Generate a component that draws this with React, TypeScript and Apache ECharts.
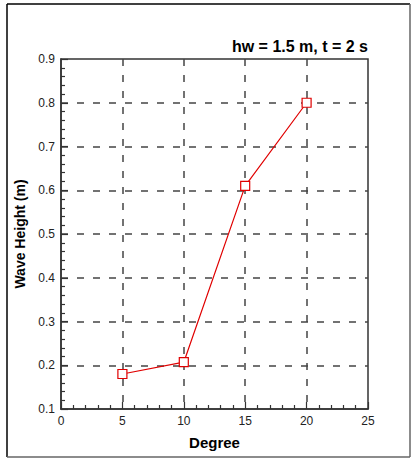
import React, { useEffect, useRef } from "react";
import * as echarts from "echarts";

const degrees = [5, 10, 15, 20];
const waveHeights = [0.18, 0.207, 0.61, 0.8];
const titleText = "hw = 1.5 m, t = 2 s";
const xName = "Degree";
const yName = "Wave Height (m)";

export default function App() {
  const ref = useRef<HTMLDivElement>(null);
  useEffect(() => {
    if (!ref.current) return;
    const chart = echarts.init(ref.current, null, { renderer: "svg" });
    const font = "Arial, 'Liberation Sans', sans-serif";
    chart.setOption({
      animation: false,
      backgroundColor: "#ffffff",
      title: {
        text: titleText,
        right: 41,
        top: 33,
        textStyle: { fontFamily: font, fontWeight: "bold", fontSize: 16, color: "#000" },
      },
      graphic: [
        { type: "line", shape: { x1: 7, y1: 4, x2: 410, y2: 4 }, style: { stroke: "#000", lineWidth: 1.5 } },
        { type: "line", shape: { x1: 7, y1: 4, x2: 7, y2: 457 }, style: { stroke: "#000", lineWidth: 1.5 } },
        { type: "line", shape: { x1: 410, y1: 4, x2: 410, y2: 457 }, style: { stroke: "#666", lineWidth: 1.5 } },
        { type: "line", shape: { x1: 7, y1: 457, x2: 410, y2: 457 }, style: { stroke: "#666", lineWidth: 1.5 } },
      ],
      grid: {
        left: 61,
        right: 46,
        top: 59,
        bottom: 50,
        show: true,
        borderColor: "#333",
        borderWidth: 1.5,
        containLabel: false,
      },
      xAxis: {
        type: "value",
        min: 0,
        max: 25,
        interval: 5,
        name: xName,
        nameLocation: "middle",
        nameGap: 26,
        nameTextStyle: { fontFamily: font, fontWeight: "bold", fontSize: 15, color: "#000" },
        axisLine: { show: true, lineStyle: { color: "#333", width: 1.5 } },
        axisTick: { show: true, inside: true, length: 7, lineStyle: { color: "#333", width: 1.2 } },
        minorTick: { show: true, splitNumber: 5, length: 4, lineStyle: { color: "#333", width: 1.2 } },
        axisLabel: { fontFamily: font, fontSize: 12, color: "#222", margin: 6 },
        splitLine: {
          show: true,
          showMinLine: false,
          showMaxLine: false,
          lineStyle: { color: "#444", width: 1.5, type: [7, 9] },
        },
      },
      yAxis: {
        type: "value",
        min: 0.1,
        max: 0.9,
        interval: 0.1,
        name: yName,
        nameLocation: "middle",
        nameGap: 33,
        nameTextStyle: { fontFamily: font, fontWeight: "bold", fontSize: 14, color: "#000" },
        axisLine: { show: true, lineStyle: { color: "#333", width: 1.5 } },
        axisTick: { show: true, inside: true, length: 7, lineStyle: { color: "#333", width: 1.2 } },
        minorTick: { show: true, splitNumber: 5, length: 4, lineStyle: { color: "#333", width: 1.2 } },
        axisLabel: {
          fontFamily: font,
          fontSize: 12,
          color: "#222",
          margin: 6,
          formatter: (v: number) => v.toFixed(1),
        },
        splitLine: {
          show: true,
          showMinLine: false,
          showMaxLine: false,
          lineStyle: { color: "#444", width: 1.5, type: [7, 9] },
        },
      },
      series: [
        {
          type: "line",
          data: degrees.map((d, i) => [d, waveHeights[i]]),
          symbol: "rect",
          symbolSize: 9,
          showAllSymbol: true,
          lineStyle: { color: "#e00000", width: 1.2 },
          itemStyle: { color: "#ffffff", borderColor: "#e00000", borderWidth: 1.2, opacity: 1 },
          z: 5,
        },
      ],
    });
    return () => chart.dispose();
  }, []);
  return (
    <div
      ref={ref}
      style={{ position: "absolute", left: 0, top: 0, width: 414, height: 459 }}
    />
  );
}
